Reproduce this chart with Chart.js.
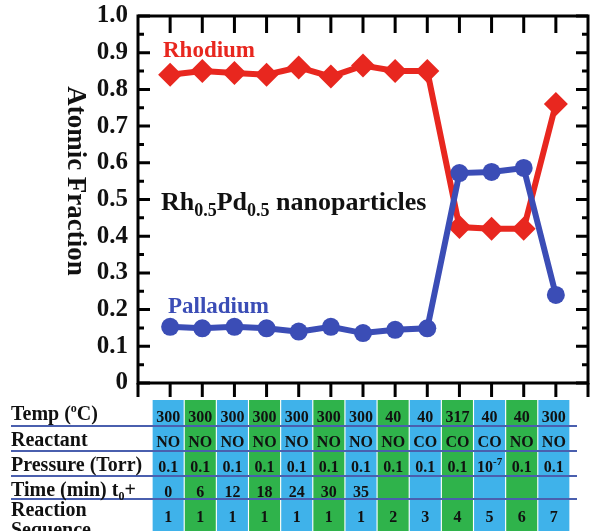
<!DOCTYPE html>
<html>
<head>
<meta charset="utf-8">
<script src="https://cdn.jsdelivr.net/npm/chart.js@4.4.1/dist/chart.umd.min.js"></script>
<style>
  html, body { margin: 0; padding: 0; background: #fff; }
  #wrap { width: 590px; height: 531px; position: relative; }
</style>
</head>
<body>
<div id="wrap"><canvas id="chart"></canvas></div>
<script>
// ── Data ─────────────────────────────────────────────────────
const steps     = [1, 2, 3, 4, 5, 6, 7, 8, 9, 10, 11, 12, 13];
const rhodium   = [0.84, 0.85, 0.845, 0.84, 0.86, 0.835, 0.865, 0.85, 0.85, 0.425, 0.42, 0.42, 0.76];
const palladium = [0.153, 0.149, 0.153, 0.149, 0.14, 0.153, 0.136, 0.145, 0.149, 0.572, 0.575, 0.586, 0.24];

// table under the plot, one entry per step
const tempRow     = ['300', '300', '300', '300', '300', '300', '300', '40', '40', '317', '40', '40', '300'];
const reactantRow = ['NO', 'NO', 'NO', 'NO', 'NO', 'NO', 'NO', 'NO', 'CO', 'CO', 'CO', 'NO', 'NO'];
const pressureRow = ['0.1', '0.1', '0.1', '0.1', '0.1', '0.1', '0.1', '0.1', '0.1', '0.1', '10^-7', '0.1', '0.1'];
const timeRow     = ['0', '6', '12', '18', '24', '30', '35', '', '', '', '', '', ''];
const sequenceRow = ['1', '1', '1', '1', '1', '1', '1', '2', '3', '4', '5', '6', '7'];

const RED   = '#e8271f';
const BLUE  = '#3b4db6';
const CELL_BLUE  = '#3fb2ea';
const CELL_GREEN = '#2fb34b';
const SERIF = "'Liberation Serif', 'Times New Roman', serif";

function bold(size) { return 'bold ' + size + 'px ' + SERIF; }

// draws runs of [text, size, dy] on one baseline
function drawRuns(ctx, runs, x, y, align) {
  let total = 0;
  runs.forEach(r => { ctx.font = bold(r[1]); total += ctx.measureText(r[0]).width; });
  let cx = align === 'center' ? x - total / 2 : x;
  ctx.textAlign = 'left';
  ctx.textBaseline = 'alphabetic';
  runs.forEach(r => {
    ctx.font = bold(r[1]);
    ctx.fillText(r[0], cx, y + (r[2] || 0));
    cx += ctx.measureText(r[0]).width;
  });
}

function cellRuns(v) {
  if (v.includes('^')) {
    const [base, exp] = v.split('^');
    return [[base, 16], [exp, 11, -7]];
  }
  return [[v, 16]];
}

// ── Frame, ticks, labels and table ───────────────────────────
const decorations = {
  id: 'decorations',
  afterDraw(chart) {
    const { ctx, chartArea: a, scales: { x, y } } = chart;
    ctx.save();

    // frame
    ctx.strokeStyle = '#000';
    ctx.lineWidth = 3;
    ctx.strokeRect(a.left, a.top, a.right - a.left, a.bottom - a.top);

    // left / right ticks (inward), major every 0.1, minor every 0.05
    for (let i = 0; i <= 20; i++) {
      const py = y.getPixelForValue(i * 0.05);
      const len = i % 2 === 0 ? 12 : 6;
      ctx.beginPath();
      ctx.moveTo(a.left, py); ctx.lineTo(a.left + len, py);
      ctx.moveTo(a.right, py); ctx.lineTo(a.right - len, py);
      ctx.stroke();
    }
    // top ticks (inward) and bottom ticks (outward)
    steps.forEach(s => {
      const px = x.getPixelForValue(s);
      ctx.beginPath();
      ctx.moveTo(px, a.top); ctx.lineTo(px, a.top + 17);
      ctx.stroke();
    });
    [x.min].concat(steps, [x.max]).forEach(s => {
      const px = x.getPixelForValue(s);
      ctx.beginPath();
      ctx.moveTo(px, a.bottom); ctx.lineTo(px, a.bottom + 14);
      ctx.stroke();
    });

    // axis title, reading top to bottom
    ctx.save();
    ctx.translate(75, 181);
    ctx.rotate(Math.PI / 2);
    ctx.fillStyle = '#111';
    ctx.font = bold(27);
    ctx.textAlign = 'center';
    ctx.textBaseline = 'middle';
    ctx.fillText('Atomic Fraction', 0, 0);
    ctx.restore();

    // series labels
    ctx.fillStyle = RED;
    drawRuns(ctx, [['Rhodium', 23]], 163, 57);
    ctx.fillStyle = BLUE;
    drawRuns(ctx, [['Palladium', 23]], 168, 313);
    ctx.fillStyle = '#111';
    drawRuns(ctx, [['Rh', 26], ['0.5', 18, 6], ['Pd', 26], ['0.5', 18, 6], [' nanoparticles', 26]], 161, 210);

    // table cells
    const cellTop = 400, cellW = 31;
    steps.forEach((s, i) => {
      const px = x.getPixelForValue(s) - 2;
      ctx.fillStyle = i % 2 === 0 ? CELL_BLUE : CELL_GREEN;
      ctx.fillRect(px - cellW / 2, cellTop, cellW, chart.height - cellTop);
    });

    // row separators
    ctx.strokeStyle = '#4a5fae';
    ctx.lineWidth = 2;
    [426, 451, 476, 499].forEach(ly => {
      ctx.beginPath();
      ctx.moveTo(11, ly); ctx.lineTo(577, ly);
      ctx.stroke();
    });

    // row labels
    ctx.fillStyle = '#111';
    drawRuns(ctx, [['Temp (', 20], ['o', 12, -8], ['C)', 20]], 11, 420);
    drawRuns(ctx, [['Reactant', 20]], 11, 446);
    drawRuns(ctx, [['Pressure (Torr)', 20]], 11, 471);
    drawRuns(ctx, [['Time (min) t', 20], ['0', 12, 4], ['+', 20]], 11, 496);
    drawRuns(ctx, [['Reaction', 20]], 11, 516);
    drawRuns(ctx, [['Sequence', 20]], 11, 536);

    // cell values
    const rows = [[tempRow, 422], [reactantRow, 447], [pressureRow, 472], [timeRow, 497], [sequenceRow, 522]];
    rows.forEach(([vals, by]) => {
      vals.forEach((v, i) => {
        if (!v) return;
        const px = x.getPixelForValue(steps[i]) - 2;
        drawRuns(ctx, cellRuns(v), px, by, 'center');
      });
    });

    ctx.restore();
  }
};

// ── Chart ────────────────────────────────────────────────────
new Chart(document.getElementById('chart'), {
  type: 'line',
  data: {
    datasets: [{
      label: 'Rhodium',
      data: steps.map((s, i) => ({ x: s, y: rhodium[i] })),
      borderColor: RED,
      backgroundColor: RED,
      borderWidth: 6,
      pointStyle: 'rectRot',
      pointRadius: 12,
      pointBorderWidth: 0,
      order: 2,
    }, {
      label: 'Palladium',
      data: steps.map((s, i) => ({ x: s, y: palladium[i] })),
      borderColor: BLUE,
      backgroundColor: BLUE,
      borderWidth: 6,
      pointStyle: 'circle',
      pointRadius: 9,
      pointBorderWidth: 0,
      order: 1,
    }]
  },
  options: {
    responsive: true,
    maintainAspectRatio: false,
    animation: false,
    layout: { autoPadding: false, padding: { left: 38, top: 16, right: 2, bottom: 148 } },
    plugins: { legend: { display: false }, tooltip: { enabled: false } },
    scales: {
      x: { type: 'linear', min: 0, max: 14, display: false },
      y: {
        min: 0,
        max: 1,
        afterFit(scale) {
          scale.width = 100;
          scale.paddingTop = 0;
          scale.paddingBottom = 0;
        },
        grid: { display: false, drawTicks: false },
        border: { display: false },
        ticks: {
          stepSize: 0.1,
          padding: 10,
          color: '#111',
          font: { family: SERIF, size: 25, weight: 'bold' },
          callback: v => v === 0 ? '0' : v.toFixed(1)
        }
      }
    }
  },
  plugins: [decorations]
});
</script>
</body>
</html>
